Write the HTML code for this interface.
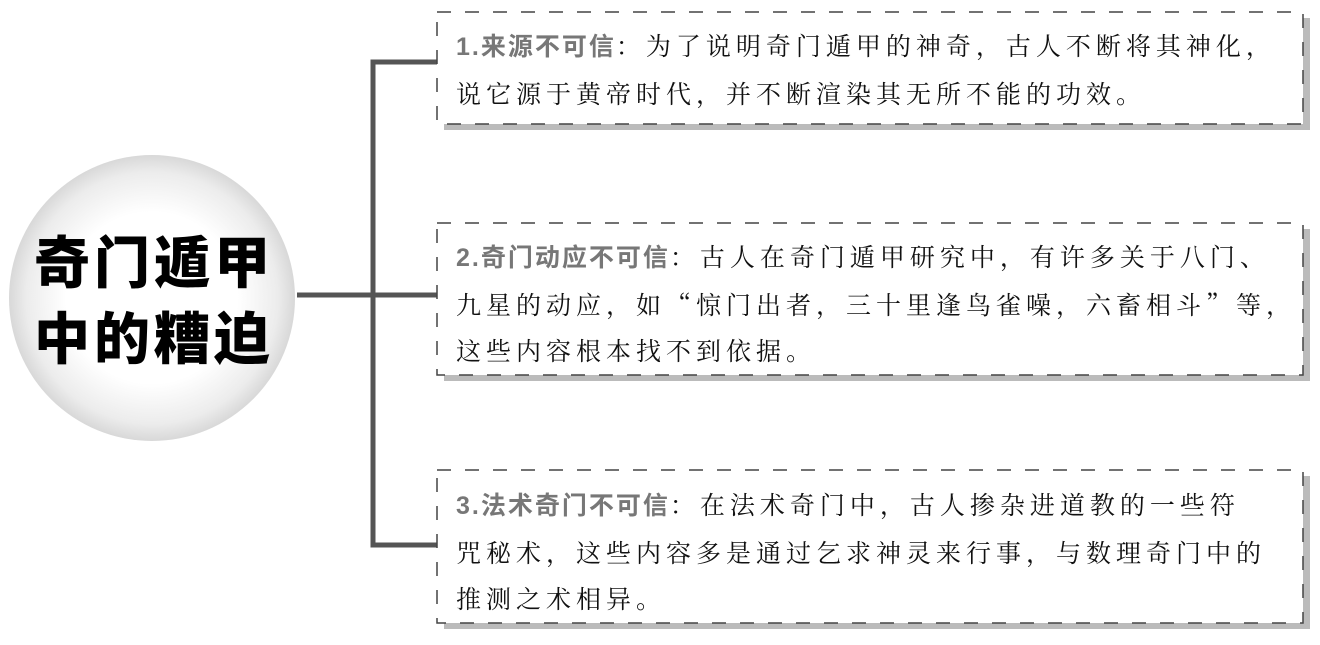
<!DOCTYPE html>
<html><head><meta charset="utf-8"><style>
body{margin:0;width:1320px;height:645px;background:#fff;position:relative;overflow:hidden;font-family:"Liberation Sans","Noto Serif CJK SC","Noto Sans CJK SC",serif;}
.t{position:absolute;left:456px;font-size:25px;letter-spacing:5px;line-height:46px;color:#111;white-space:nowrap;font-family:"Noto Serif CJK SC","Liberation Serif",serif;}
.t b{color:#777;font-family:"Liberation Sans","Noto Sans CJK SC",sans-serif;font-weight:bold;letter-spacing:2px}
.c{position:absolute;left:14px;top:222px;width:280px;font-size:56px;font-weight:900;line-height:76px;letter-spacing:4px;text-align:center;font-family:"Noto Sans CJK SC",sans-serif;color:#000;}
</style></head><body>
<svg width="1320" height="645" style="position:absolute;left:0;top:0">
<defs><radialGradient id="g" cx="50%" cy="50%" r="50%"><stop offset="0.6" stop-color="#fff"/><stop offset="0.88" stop-color="#ececec"/><stop offset="1" stop-color="#d8d8d8"/></radialGradient></defs>
<circle cx="152" cy="298" r="143" fill="url(#g)"/>
<g stroke="#555" stroke-width="5" fill="none">
<line x1="297" y1="295" x2="437" y2="295"/>
<path d="M437 62 H373 V545 H437"/>
</g>
<g fill="none">
<rect x="444" y="18" width="866" height="112" fill="#bbb"/>
<rect x="437" y="12" width="866" height="112" fill="#fff" stroke="#444" stroke-width="1.5" stroke-dasharray="14 14"/>
<rect x="444" y="229" width="866" height="152" fill="#bbb"/>
<rect x="437" y="223" width="866" height="152" fill="#fff" stroke="#444" stroke-width="1.5" stroke-dasharray="14 14"/>
<rect x="444" y="476" width="866" height="153" fill="#bbb"/>
<rect x="437" y="470" width="866" height="153" fill="#fff" stroke="#444" stroke-width="1.5" stroke-dasharray="14 14"/>
</g>
</svg>
<div class="c">奇门遁甲<br>中的糟迫</div>
<div class="t" style="top:22px"><b>1.来源不可信</b>：为了说明奇门遁甲的神奇，古人不断将其神化，<br>说它源于黄帝时代，并不断渲染其无所不能的功效。</div>
<div class="t" style="top:233px"><b>2.奇门动应不可信</b>：古人在奇门遁甲研究中，有许多关于八门、<br>九星的动应，如“惊门出者，三十里逢鸟雀噪，六畜相斗”等，<br>这些内容根本找不到依据。</div>
<div class="t" style="top:481px"><b>3.法术奇门不可信</b>：在法术奇门中，古人掺杂进道教的一些符<br>咒秘术，这些内容多是通过乞求神灵来行事，与数理奇门中的<br>推测之术相异。</div>
</body></html>
